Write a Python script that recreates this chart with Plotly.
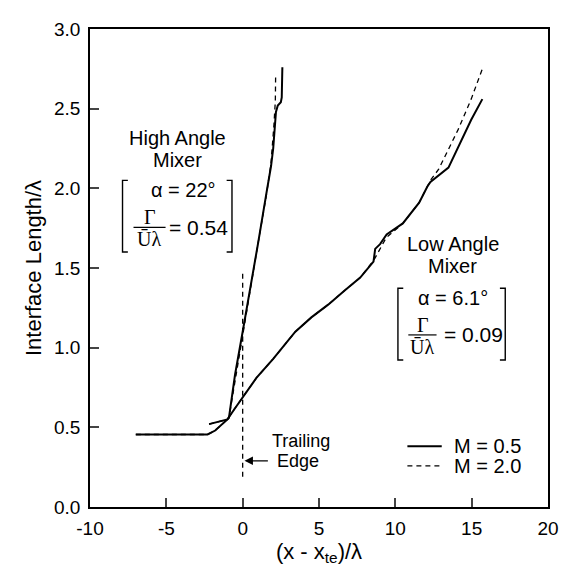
import plotly.graph_objects as go

# ---------------- data ----------------
# High angle mixer, M = 0.5 (solid)
hi_m05_x = [-2.2, -1.6, -1.0, -0.9, -0.5, 0.0, 0.5, 1.0, 1.54, 1.86, 2.0, 2.18, 2.3, 2.5, 2.56, 2.6]
hi_m05_y = [0.52, 0.535, 0.55, 0.56, 0.83, 1.1, 1.37, 1.65, 1.96, 2.14, 2.25, 2.48, 2.52, 2.54, 2.57, 2.76]
# High angle mixer, M = 2.0 (dashed)
hi_m20_x = [-2.2, -1.6, -1.0, -0.9, 0.0, 1.0, 1.54, 1.85, 2.05, 2.14, 2.16]
hi_m20_y = [0.52, 0.535, 0.55, 0.56, 1.09, 1.65, 1.95, 2.15, 2.4, 2.55, 2.71]
# Low angle mixer, M = 0.5 (solid)
lo_m05_x = [-7.0, -2.3, -1.8, -1.0, -0.5, 0.0, 0.9, 2.0, 3.45, 4.5, 5.6, 6.7, 7.7, 8.57, 8.68, 9.0, 9.43,
            10.49, 11.56, 12.09, 12.3, 13.48, 14.33, 14.97, 15.7]
lo_m05_y = [0.455, 0.455, 0.48, 0.55, 0.62, 0.69, 0.81, 0.93, 1.1, 1.19, 1.27, 1.36, 1.44, 1.54, 1.62, 1.65, 1.71,
            1.78, 1.91, 2.01, 2.04, 2.13, 2.3, 2.43, 2.56]
# Low angle mixer, M = 2.0 (dashed)
lo_m20_x = [-7.0, -2.3, -1.8, -1.0, -0.5, 0.0, 0.9, 2.0, 3.45, 4.5, 5.6, 6.7, 7.7, 8.6, 9.4,
            10.49, 11.56, 12.09, 12.3, 12.84, 13.48, 14.12, 14.97, 15.7]
lo_m20_y = [0.455, 0.455, 0.48, 0.55, 0.62, 0.69, 0.81, 0.93, 1.1, 1.19, 1.27, 1.36, 1.44, 1.55, 1.69,
            1.78, 1.91, 2.01, 2.05, 2.12, 2.24, 2.37, 2.56, 2.75]
# Trailing edge marker
te_x = [0.0, 0.0]
te_y = [0.19, 1.47]

legend_names = ["M = 0.5", "M = 2.0"]
x_tick_vals = [-10, -5, 0, 5, 10, 15, 20]
x_tick_text = ["-10", "-5", "0", "5", "10", "15", "20"]
y_tick_vals = [0.0, 0.5, 1.0, 1.5, 2.0, 2.5, 3.0]
y_tick_text = ["0.0", "0.5", "1.0", "1.5", "2.0", "2.5", "3.0"]

FONT = "Liberation Sans, Arial, Helvetica, sans-serif"
SERIF = "Liberation Serif, Times New Roman, serif"
DASH = "5px,4px"
SOLID_W = 2
DASH_W = 1.3

fig = go.Figure()
fig.add_trace(go.Scatter(x=hi_m05_x, y=hi_m05_y, mode="lines", name=legend_names[0],
                         line=dict(color="black", width=SOLID_W), showlegend=False))
fig.add_trace(go.Scatter(x=lo_m05_x, y=lo_m05_y, mode="lines", name=legend_names[0],
                         line=dict(color="black", width=SOLID_W), showlegend=False))
fig.add_trace(go.Scatter(x=hi_m20_x, y=hi_m20_y, mode="lines", name=legend_names[1],
                         line=dict(color="black", width=DASH_W, dash=DASH), showlegend=False))
fig.add_trace(go.Scatter(x=lo_m20_x, y=lo_m20_y, mode="lines", name=legend_names[1],
                         line=dict(color="black", width=DASH_W, dash=DASH), showlegend=False))
fig.add_trace(go.Scatter(x=te_x, y=te_y, mode="lines", showlegend=False,
                         line=dict(color="black", width=DASH_W, dash=DASH)))

ann = []
def txt(x, y, s, size=20, family=FONT, xref="x", yref="y", xanchor="center"):
    ann.append(dict(x=x, y=y, xref=xref, yref=yref, text=s, showarrow=False,
                    xanchor=xanchor, yanchor="middle",
                    font=dict(size=size, family=family, color="black")))

# High angle labels
txt(-4.3, 2.315, "High Angle")
txt(-4.3, 2.18, "Mixer")
txt(-3.9, 1.99, "α = 22°")
txt(-6.1, 1.818, "Γ", family=SERIF, size=20)
txt(-6.15, 1.68, "Ūλ", family=SERIF, size=20)
txt(-2.9, 1.755, "= 0.54", size=21)
# Low angle labels
txt(13.75, 1.65, "Low Angle")
txt(13.75, 1.515, "Mixer")
txt(13.8, 1.31, "α = 6.1°")
txt(11.8, 1.14, "Γ", family=SERIF, size=20)
txt(11.75, 1.003, "Ūλ", family=SERIF, size=20)
txt(15.1, 1.08, "= 0.09", size=21)
# Trailing edge
txt(3.8, 0.415, "Trailing", size=18)
txt(3.6, 0.29, "Edge", size=18)
ann.append(dict(x=0.12, y=0.29, ax=1.75, ay=0.29, xref="x", yref="y", axref="x", ayref="y",
                text="", showarrow=True, arrowhead=2, arrowsize=1.3, arrowwidth=1.3, arrowcolor="black"))

shapes = []
def bracket(x0, x1, y0, y1, serif=0.35):
    for xs, sgn in ((x0, 1), (x1, -1)):
        shapes.append(dict(type="path", xref="x", yref="y",
                           path=f"M {xs+sgn*serif},{y1} L {xs},{y1} L {xs},{y0} L {xs+sgn*serif},{y0}",
                           line=dict(color="black", width=1.4)))

bracket(-7.87, -0.70, 1.60, 2.05)
bracket(10.17, 17.2, 0.923, 1.373)
shapes.append(dict(type="line", xref="x", yref="y", x0=-7.15, x1=-5.05, y0=1.755, y1=1.755,
                   line=dict(color="black", width=1.2)))
shapes.append(dict(type="line", xref="x", yref="y", x0=10.85, x1=12.7, y0=1.08, y1=1.08,
                   line=dict(color="black", width=1.2)))

# Legend (drawn as key lines + labels)
leg_y = [0.127, 0.086]
leg_x0, leg_x1, leg_tx = 0.693, 0.768, 0.79
shapes.append(dict(type="line", xref="paper", yref="paper", x0=leg_x0, x1=leg_x1, y0=leg_y[0], y1=leg_y[0],
                   line=dict(color="black", width=SOLID_W)))
shapes.append(dict(type="line", xref="paper", yref="paper", x0=leg_x0, x1=leg_x1, y0=leg_y[1], y1=leg_y[1],
                   line=dict(color="black", width=DASH_W, dash=DASH)))
txt(leg_tx, leg_y[0], legend_names[0], size=20, xref="paper", yref="paper", xanchor="left")
txt(leg_tx, leg_y[1], legend_names[1], size=20, xref="paper", yref="paper", xanchor="left")

fig.update_layout(
    width=570, height=569,
    margin=dict(l=90, r=11, t=29, b=62),
    paper_bgcolor="white", plot_bgcolor="white",
    font=dict(family=FONT, size=19, color="black"),
    annotations=ann, shapes=shapes,
    showlegend=False,
)
fig.update_xaxes(range=[-10, 20], tickvals=x_tick_vals, ticktext=x_tick_text, ticks="inside", ticklen=9,
                 tickwidth=1.5, showline=True, linecolor="black", linewidth=1.5, mirror=True,
                 showgrid=False, zeroline=False, tickfont=dict(size=19), ticklabelstandoff=3,
                 title=dict(text="(x - x<sub>te</sub>)/λ", font=dict(size=22), standoff=2))
fig.update_yaxes(range=[0, 3.0], tickvals=y_tick_vals, ticktext=y_tick_text, ticks="inside", ticklen=9,
                 tickwidth=1.5, showline=True, linecolor="black", linewidth=1.5, mirror=True,
                 showgrid=False, zeroline=False, tickfont=dict(size=19), ticklabelstandoff=4,
                 title=dict(text="Interface Length/λ", font=dict(size=22), standoff=6))

fig.write_html("out.html")
